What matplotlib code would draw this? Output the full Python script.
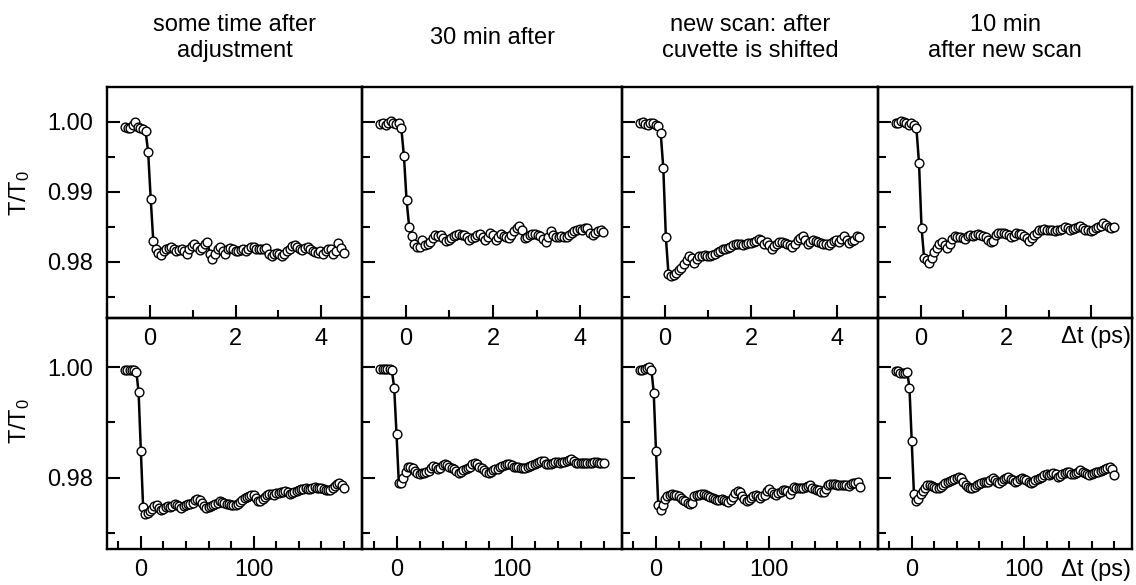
import matplotlib
matplotlib.use("Agg")
import matplotlib.pyplot as plt
from matplotlib.ticker import FixedLocator, MultipleLocator

plt.rcParams["font.family"] = ["Liberation Sans", "DejaVu Sans"]
plt.rcParams["mathtext.fontset"] = "custom"
plt.rcParams["mathtext.rm"] = "Liberation Sans"
plt.rcParams["mathtext.default"] = "regular"

# --- data ---------------------------------------------------------------
titles = [
    "some time after\nadjustment",
    "30 min after",
    "new scan: after\ncuvette is shifted",
    "10 min\nafter new scan",
]

# short delay scan (ps)
delay_short = [
    -0.58, -0.52, -0.46, -0.40, -0.34, -0.28, -0.22, -0.16, -0.10, -0.04,
    0.02, 0.08, 0.14, 0.20, 0.26, 0.32, 0.38, 0.44, 0.50, 0.56,
    0.62, 0.68, 0.74, 0.80, 0.86, 0.92, 0.98, 1.04, 1.10, 1.16,
    1.22, 1.28, 1.34, 1.40, 1.46, 1.52, 1.58, 1.64, 1.70, 1.76,
    1.82, 1.88, 1.94, 2.00, 2.06, 2.12, 2.18, 2.24, 2.30, 2.36,
    2.42, 2.48, 2.54, 2.60, 2.66, 2.72, 2.78, 2.84, 2.90, 2.96,
    3.02, 3.08, 3.14, 3.20, 3.26, 3.32, 3.38, 3.44, 3.50, 3.56,
    3.62, 3.68, 3.74, 3.80, 3.86, 3.92, 3.98, 4.04, 4.10, 4.16,
    4.22, 4.28, 4.34, 4.40, 4.46, 4.52,
]

short_adjust = [
    0.9993, 0.9992, 0.9991, 0.9995, 1.0000, 0.9993, 0.9991, 0.9990, 0.9987, 0.9957,
    0.9890, 0.9830, 0.9818, 0.9813, 0.9810, 0.9815, 0.9818, 0.9820, 0.9821, 0.9818,
    0.9815, 0.9817, 0.9818, 0.9816, 0.9812, 0.9818, 0.9823, 0.9826, 0.9822, 0.9817,
    0.9820, 0.9826, 0.9828, 0.9812, 0.9804, 0.9812, 0.9818, 0.9822, 0.9815, 0.9812,
    0.9818, 0.9820, 0.9818, 0.9816, 0.9815, 0.9817, 0.9818, 0.9815, 0.9819, 0.9822,
    0.9821, 0.9819, 0.9818, 0.9819, 0.9818, 0.9820, 0.9812, 0.9808, 0.9812, 0.9813,
    0.9811, 0.9809, 0.9811, 0.9815, 0.9818, 0.9823, 0.9824, 0.9821, 0.9818, 0.9817,
    0.9820, 0.9822, 0.9818, 0.9815, 0.9814, 0.9813, 0.9815, 0.9812, 0.9815, 0.9819,
    0.9818, 0.9812, 0.9815, 0.9827, 0.9820, 0.9813,
]
short_30min = [
    0.9997, 0.9998, 0.9996, 0.9999, 1.0001, 0.9998, 0.9997, 0.9999, 0.9991, 0.9951,
    0.9888, 0.9850, 0.9837, 0.9825, 0.9822, 0.9821, 0.9832, 0.9824, 0.9826, 0.9829,
    0.9834, 0.9838, 0.9837, 0.9839, 0.9834, 0.9830, 0.9832, 0.9834, 0.9837, 0.9839,
    0.9840, 0.9838, 0.9839, 0.9836, 0.9832, 0.9834, 0.9835, 0.9838, 0.9840, 0.9835,
    0.9831, 0.9836, 0.9842, 0.9838, 0.9832, 0.9836, 0.9840, 0.9837, 0.9835, 0.9834,
    0.9838, 0.9844, 0.9849, 0.9851, 0.9845, 0.9834, 0.9836, 0.9839, 0.9840, 0.9840,
    0.9839, 0.9837, 0.9833, 0.9828, 0.9836, 0.9844, 0.9838, 0.9835, 0.9836, 0.9837,
    0.9836, 0.9835, 0.9838, 0.9841, 0.9844, 0.9846, 0.9847, 0.9845, 0.9848, 0.9849,
    0.9842, 0.9839, 0.9841, 0.9844, 0.9846, 0.9843,
]
short_shifted = [
    0.9998, 1.0000, 0.9997, 0.9996, 0.9998, 0.9999, 0.9996, 0.9994, 0.9984, 0.9934,
    0.9835, 0.9783, 0.9780, 0.9781, 0.9784, 0.9788, 0.9792, 0.9797, 0.9803, 0.9809,
    0.9806, 0.9799, 0.9804, 0.9808, 0.9809, 0.9810, 0.9809, 0.9808, 0.9810, 0.9812,
    0.9814, 0.9816, 0.9818, 0.9819, 0.9820, 0.9822, 0.9824, 0.9825, 0.9826, 0.9825,
    0.9824, 0.9826, 0.9827, 0.9827, 0.9828, 0.9830, 0.9833, 0.9831, 0.9826, 0.9828,
    0.9824, 0.9819, 0.9823, 0.9826, 0.9828, 0.9829, 0.9827, 0.9826, 0.9824, 0.9822,
    0.9826, 0.9831, 0.9834, 0.9837, 0.9832, 0.9826, 0.9829, 0.9831, 0.9830, 0.9829,
    0.9827, 0.9826, 0.9825, 0.9824, 0.9827, 0.9830, 0.9831, 0.9829, 0.9833, 0.9837,
    0.9832, 0.9827, 0.9830, 0.9832, 0.9837, 0.9836,
]
short_10min = [
    0.9998, 0.9999, 1.0001, 1.0000, 0.9998, 0.9995, 0.9999, 0.9996, 0.9991, 0.9942,
    0.9849, 0.9806, 0.9803, 0.9799, 0.9805, 0.9814, 0.9820, 0.9826, 0.9828, 0.9824,
    0.9820, 0.9826, 0.9833, 0.9837, 0.9836, 0.9835, 0.9834, 0.9833, 0.9837, 0.9839,
    0.9837, 0.9838, 0.9840, 0.9838, 0.9837, 0.9835, 0.9832, 0.9829, 0.9830, 0.9838,
    0.9841, 0.9842, 0.9842, 0.9840, 0.9838, 0.9835, 0.9837, 0.9841, 0.9840, 0.9840,
    0.9837, 0.9834, 0.9830, 0.9834, 0.9839, 0.9842, 0.9845, 0.9846, 0.9847, 0.9846,
    0.9846, 0.9845, 0.9844, 0.9845, 0.9846, 0.9847, 0.9850, 0.9849, 0.9846, 0.9847,
    0.9848, 0.9850, 0.9852, 0.9848, 0.9846, 0.9845, 0.9844, 0.9846, 0.9848, 0.9850,
    0.9852, 0.9855, 0.9853, 0.9850, 0.9849, 0.9850,
]

# long delay scan (ps)
delay_long = [
    -14, -12, -10, -8, -6, -4, -2, 0, 2, 4,
    6, 8, 10, 12, 14, 16, 18, 20, 22, 24,
    26, 28, 30, 32, 34, 36, 38, 40, 42, 44,
    46, 48, 50, 52, 54, 56, 58, 60, 62, 64,
    66, 68, 70, 72, 74, 76, 78, 80, 82, 84,
    86, 88, 90, 92, 94, 96, 98, 100, 102, 104,
    106, 108, 110, 112, 114, 116, 118, 120, 122, 124,
    126, 128, 130, 132, 134, 136, 138, 140, 142, 144,
    146, 148, 150, 152, 154, 156, 158, 160, 162, 164,
    166, 168, 170, 172, 174, 176, 178, 180,
]

long_adjust = [
    0.9995, 0.9995, 0.9994, 0.9995, 0.9994, 0.9992, 0.9955, 0.9849, 0.9747, 0.9734,
    0.9736, 0.9739, 0.9743, 0.9748, 0.9750, 0.9746, 0.9742, 0.9744, 0.9747, 0.9748,
    0.9747, 0.9749, 0.9752, 0.9751, 0.9748, 0.9746, 0.9748, 0.9750, 0.9752, 0.9753,
    0.9755, 0.9759, 0.9761, 0.9760, 0.9754, 0.9749, 0.9746, 0.9747, 0.9749, 0.9750,
    0.9753, 0.9754, 0.9757, 0.9756, 0.9754, 0.9753, 0.9752, 0.9751, 0.9750, 0.9751,
    0.9753, 0.9756, 0.9760, 0.9763, 0.9765, 0.9767, 0.9768, 0.9769, 0.9764, 0.9757,
    0.9758, 0.9762, 0.9765, 0.9768, 0.9770, 0.9771, 0.9769, 0.9772, 0.9773, 0.9774,
    0.9775, 0.9776, 0.9774, 0.9771, 0.9772, 0.9774, 0.9776, 0.9778, 0.9779, 0.9780,
    0.9781, 0.9780, 0.9779, 0.9781, 0.9783, 0.9782, 0.9782, 0.9781, 0.9780, 0.9778,
    0.9777, 0.9778, 0.9782, 0.9785, 0.9788, 0.9791, 0.9786, 0.9781,
]
long_30min = [
    0.9996, 0.9997, 0.9996, 0.9996, 0.9996, 0.9994, 0.9962, 0.9879, 0.9791, 0.9790,
    0.9799, 0.9811, 0.9819, 0.9820, 0.9817, 0.9813, 0.9809, 0.9807, 0.9808, 0.9809,
    0.9811, 0.9813, 0.9817, 0.9821, 0.9819, 0.9815, 0.9818, 0.9823, 0.9825, 0.9823,
    0.9820, 0.9818, 0.9815, 0.9812, 0.9809, 0.9810, 0.9814, 0.9816, 0.9818, 0.9820,
    0.9824, 0.9827, 0.9824, 0.9820, 0.9817, 0.9814, 0.9810, 0.9808, 0.9810, 0.9814,
    0.9815, 0.9816, 0.9819, 0.9821, 0.9823, 0.9825, 0.9825, 0.9823, 0.9820, 0.9819,
    0.9819, 0.9818, 0.9817, 0.9818, 0.9820, 0.9821, 0.9823, 0.9825, 0.9827, 0.9829,
    0.9831, 0.9830, 0.9825, 0.9824, 0.9825, 0.9827, 0.9829, 0.9828, 0.9827, 0.9828,
    0.9829, 0.9830, 0.9832, 0.9833, 0.9830, 0.9826, 0.9826, 0.9827, 0.9827, 0.9826,
    0.9827, 0.9827, 0.9827, 0.9828, 0.9828, 0.9827, 0.9827, 0.9827,
]
long_shifted = [
    0.9994, 0.9995, 0.9996, 0.9998, 1.0000, 0.9995, 0.9954, 0.9849, 0.9750, 0.9741,
    0.9750, 0.9762, 0.9767, 0.9769, 0.9770, 0.9769, 0.9768, 0.9766, 0.9763, 0.9760,
    0.9757, 0.9754, 0.9752, 0.9755, 0.9767, 0.9768, 0.9769, 0.9770, 0.9770, 0.9769,
    0.9767, 0.9765, 0.9764, 0.9762, 0.9760, 0.9760, 0.9761, 0.9759, 0.9757, 0.9756,
    0.9759, 0.9765, 0.9772, 0.9776, 0.9774, 0.9766, 0.9761, 0.9758, 0.9760, 0.9764,
    0.9767, 0.9769, 0.9767, 0.9764, 0.9766, 0.9769, 0.9776, 0.9779, 0.9774, 0.9771,
    0.9769, 0.9772, 0.9775, 0.9777, 0.9778, 0.9776, 0.9771, 0.9777, 0.9783, 0.9782,
    0.9782, 0.9782, 0.9782, 0.9783, 0.9785, 0.9786, 0.9782, 0.9780, 0.9778, 0.9777,
    0.9775, 0.9774, 0.9780, 0.9787, 0.9788, 0.9788, 0.9788, 0.9787, 0.9787, 0.9787,
    0.9787, 0.9786, 0.9785, 0.9788, 0.9790, 0.9791, 0.9793, 0.9783,
]
long_10min = [
    0.9993, 0.9993, 0.9990, 0.9989, 0.9990, 0.9991, 0.9963, 0.9866, 0.9770, 0.9758,
    0.9761, 0.9770, 0.9776, 0.9781, 0.9786, 0.9787, 0.9785, 0.9783, 0.9782, 0.9781,
    0.9783, 0.9786, 0.9790, 0.9792, 0.9794, 0.9796, 0.9798, 0.9800, 0.9802, 0.9799,
    0.9792, 0.9787, 0.9783, 0.9781, 0.9782, 0.9784, 0.9787, 0.9789, 0.9791, 0.9792,
    0.9792, 0.9792, 0.9795, 0.9799, 0.9796, 0.9792, 0.9790, 0.9794, 0.9798, 0.9800,
    0.9801, 0.9798, 0.9795, 0.9793, 0.9794, 0.9797, 0.9799, 0.9797, 0.9795, 0.9792,
    0.9790, 0.9793, 0.9796, 0.9798, 0.9799, 0.9802, 0.9805, 0.9806, 0.9805, 0.9806,
    0.9808, 0.9806, 0.9802, 0.9803, 0.9806, 0.9808, 0.9810, 0.9811, 0.9807, 0.9806,
    0.9808, 0.9811, 0.9814, 0.9810, 0.9808, 0.9806, 0.9805, 0.9807, 0.9809, 0.9810,
    0.9811, 0.9812, 0.9814, 0.9815, 0.9818, 0.9819, 0.9815, 0.9804,
]

short_series = [short_adjust, short_30min, short_shifted, short_10min]
long_series = [long_adjust, long_30min, long_shifted, long_10min]

# --- layout (pixel edges of the panel grid) -----------------------------
W, H = 1136, 585
col_edges = [107, 362, 622, 878, 1132]
row_edges = [87, 318, 549]
FS = 17

fig = plt.figure(figsize=(W / 100, H / 100), dpi=100)


def add_panel(x0, x1, y0, y1):
    ax = fig.add_axes([x0 / W, 1 - y1 / H, (x1 - x0) / W, (y1 - y0) / H])
    ax.set_facecolor("none")
    for sp in ax.spines.values():
        sp.set_linewidth(1.7)
    ax.tick_params(which="both", direction="in", top=False, right=False,
                   labelsize=FS, width=1.5, color="black")
    ax.tick_params(which="major", length=9.5)
    ax.tick_params(which="minor", length=5.5)
    ax.tick_params(axis="y", pad=10)
    ax.tick_params(axis="x", pad=7)
    return ax


def draw(ax, t, y):
    ax.plot(t, y, color="black", lw=1.8, marker="o", ms=6.3,
            mfc="white", mec="black", mew=1.0, clip_on=False)


for c in range(4):
    x0, x1 = col_edges[c], col_edges[c + 1]

    # short delay window
    ax = add_panel(x0, x1, row_edges[0], row_edges[1])
    draw(ax, delay_short, short_series[c])
    ax.set_xlim(-1.0, 4.95)
    ax.set_ylim(0.972, 1.005)
    ax.xaxis.set_major_locator(FixedLocator([0, 2, 4]))
    ax.xaxis.set_minor_locator(MultipleLocator(1))
    ax.yaxis.set_major_locator(FixedLocator([0.98, 0.99, 1.00]))
    ax.yaxis.set_minor_locator(FixedLocator([0.975, 0.985, 0.995]))
    ax.set_xticklabels(["0", "2", ""] if c == 3 else ["0", "2", "4"])
    if c == 0:
        ax.set_yticklabels(["0.98", "0.99", "1.00"])
    else:
        ax.tick_params(axis="y", labelleft=False)

    # long delay window
    ax = add_panel(x0, x1, row_edges[1], row_edges[2])
    draw(ax, delay_long, long_series[c])
    ax.set_xlim(-30, 196)
    ax.set_ylim(0.9671, 1.0089)
    ax.xaxis.set_major_locator(FixedLocator([0, 100]))
    ax.xaxis.set_minor_locator(MultipleLocator(20))
    ax.yaxis.set_major_locator(FixedLocator([0.98, 1.00]))
    ax.yaxis.set_minor_locator(FixedLocator([0.97, 0.99]))
    ax.set_xticklabels(["0", "100"])
    if c == 0:
        ax.set_yticklabels(["0.98", "1.00"])
    else:
        ax.tick_params(axis="y", labelleft=False)

    fig.text((x0 + x1) / 2 / W, 1 - 38 / H, titles[c], ha="center",
             va="center", fontsize=FS, linespacing=1.25)

# axis captions
for yc in (193, 421):
    fig.text(20 / W, 1 - yc / H, "T/T$_0$", rotation=90, ha="center",
             va="center", fontsize=FS)
fig.text(1131 / W, 1 - 337 / H, "Δt (ps)", ha="right", va="center", fontsize=FS)
fig.text(1131 / W, 1 - 570 / H, "Δt (ps)", ha="right", va="center", fontsize=FS)

fig.savefig("out.png", dpi=100)
